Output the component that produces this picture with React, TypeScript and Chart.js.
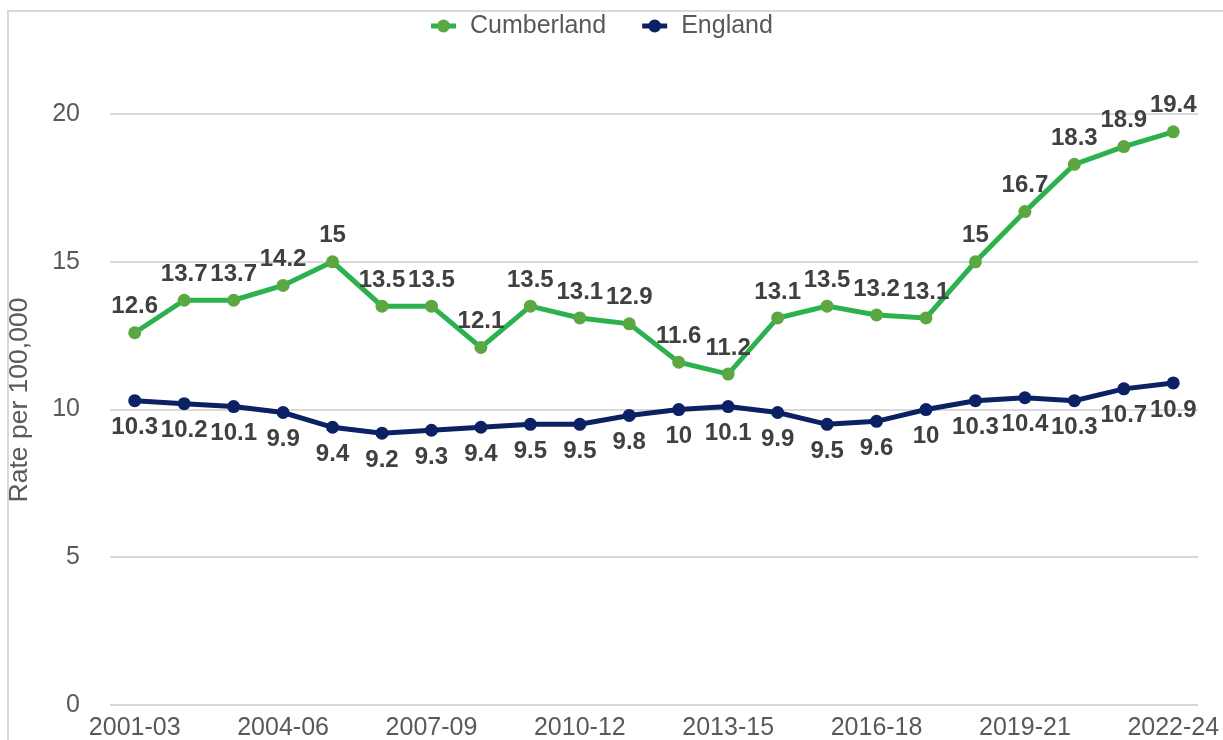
import React, { useEffect, useRef } from "react";
import { Chart, registerables } from "chart.js";

Chart.register(...registerables);

const categories = [
  "2001-03", "2002-04", "2003-05", "2004-06", "2005-07", "2006-08", "2007-09", "2008-10",
  "2009-11", "2010-12", "2011-13", "2012-14", "2013-15", "2014-16", "2015-17", "2016-18",
  "2017-19", "2018-20", "2019-21", "2020-22", "2021-23", "2022-24",
];
const cumberland = [12.6, 13.7, 13.7, 14.2, 15, 13.5, 13.5, 12.1, 13.5, 13.1, 12.9, 11.6, 11.2, 13.1, 13.5, 13.2, 13.1, 15, 16.7, 18.3, 18.9, 19.4];
const england = [10.3, 10.2, 10.1, 9.9, 9.4, 9.2, 9.3, 9.4, 9.5, 9.5, 9.8, 10, 10.1, 9.9, 9.5, 9.6, 10, 10.3, 10.4, 10.3, 10.7, 10.9];
const yTicks = [0, 5, 10, 15, 20];
const seriesNames = ["Cumberland", "England"];
const yTitle = "Rate per 100,000";

const FONT = "'Liberation Sans', Arial, sans-serif";
const GREEN_LINE = "#2bb24f";
const GREEN_POINT = "#5ba843";
const NAVY = "#0b2163";
const GREY_TEXT = "#595959";
const LABEL_TEXT = "#404040";

const decorPlugin = {
  id: "decor",
  beforeDraw(chart: any) {
    const ctx = chart.ctx;
    ctx.save();
    ctx.strokeStyle = "#d9d9d9";
    ctx.lineWidth = 2;
    ctx.beginPath();
    ctx.moveTo(8, chart.height);
    ctx.lineTo(8, 11);
    ctx.lineTo(chart.width, 11);
    ctx.stroke();
    ctx.restore();
  },
  afterDraw(chart: any) {
    const ctx = chart.ctx;
    ctx.save();
    // y axis title
    ctx.fillStyle = GREY_TEXT;
    ctx.font = `26.5px ${FONT}`;
    ctx.textAlign = "center";
    ctx.textBaseline = "middle";
    ctx.translate(20, 400);
    ctx.rotate(-Math.PI / 2);
    ctx.fillText(yTitle, 0, 0);
    ctx.restore();

    // legend
    ctx.save();
    ctx.font = `25px ${FONT}`;
    ctx.textBaseline = "middle";
    ctx.textAlign = "left";
    const ly = 26;
    let x = 431;
    chart.data.datasets.forEach((ds: any) => {
      ctx.strokeStyle = ds.borderColor;
      ctx.lineWidth = 5;
      ctx.beginPath();
      ctx.moveTo(x, ly);
      ctx.lineTo(x + 25, ly);
      ctx.stroke();
      ctx.fillStyle = ds.pointBackgroundColor;
      ctx.beginPath();
      ctx.arc(x + 12.5, ly, 6.5, 0, Math.PI * 2);
      ctx.fill();
      ctx.fillStyle = GREY_TEXT;
      ctx.fillText(ds.label, x + 39, ly);
      x += 39 + ctx.measureText(ds.label).width + 36;
    });
    ctx.restore();

    // data labels
    ctx.save();
    ctx.font = `bold 24px ${FONT}`;
    ctx.fillStyle = LABEL_TEXT;
    ctx.textAlign = "center";
    ctx.textBaseline = "middle";
    chart.data.datasets.forEach((ds: any, di: number) => {
      const meta = chart.getDatasetMeta(di);
      meta.data.forEach((pt: any, i: number) => {
        const off = di === 0 ? -26 : 27;
        ctx.fillText(String(ds.data[i]), pt.x, pt.y + off);
      });
    });
    ctx.restore();
  },
};

export default function App() {
  const ref = useRef<HTMLCanvasElement>(null);
  useEffect(() => {
    document.body.style.margin = "0";
    document.body.style.overflow = "hidden";
    const chart = new Chart(ref.current as HTMLCanvasElement, {
      type: "line",
      data: {
        labels: categories,
        datasets: [
          {
            label: seriesNames[0],
            data: cumberland,
            borderColor: GREEN_LINE,
            backgroundColor: GREEN_POINT,
            pointBackgroundColor: GREEN_POINT,
            pointBorderColor: GREEN_POINT,
            pointRadius: 6.5,
            pointBorderWidth: 0,
            borderWidth: 5,
            tension: 0,
          },
          {
            label: seriesNames[1],
            data: england,
            borderColor: NAVY,
            backgroundColor: NAVY,
            pointBackgroundColor: NAVY,
            pointBorderColor: NAVY,
            pointRadius: 6.5,
            pointBorderWidth: 0,
            borderWidth: 5,
            tension: 0,
          },
        ],
      },
      options: {
        animation: false,
        responsive: false,
        maintainAspectRatio: false,
        layout: { padding: { top: 55, right: 25, left: 0, bottom: 0 } },
        plugins: {
          legend: { display: false },
          tooltip: { enabled: false },
        },
        scales: {
          x: {
            type: "category",
            offset: true,
            grid: { display: false, drawTicks: false },
            border: { display: false },
            ticks: {
              autoSkip: false,
              maxRotation: 0,
              minRotation: 0,
              padding: 8,
              color: GREY_TEXT,
              font: { family: FONT, size: 25 },
              callback: (_v: any, i: number) => (i % 3 === 0 ? categories[i] : ""),
            },
            afterFit: (s: any) => {
              s.height = 35;
              s.paddingLeft = 0;
              s.paddingRight = 0;
            },
          },
          y: {
            min: 0,
            max: 22,
            grid: { color: "#d9d9d9", lineWidth: 2, drawTicks: false },
            border: { display: false },
            ticks: {
              padding: 30,
              color: GREY_TEXT,
              font: { family: FONT, size: 25 },
            },
            afterBuildTicks: (s: any) => {
              s.ticks = yTicks.map((v) => ({ value: v }));
            },
            afterFit: (s: any) => {
              s.width = 110;
              s.paddingTop = 0;
              s.paddingBottom = 0;
            },
          },
        },
      },
      plugins: [decorPlugin],
    });
    return () => chart.destroy();
  }, []);
  return (
    <div style={{ position: "fixed", left: 0, top: 0, width: 1223, height: 740, background: "#fff", overflow: "hidden" }}>
      <canvas ref={ref} width={1223} height={740} style={{ display: "block", width: 1223, height: 740 }} />
    </div>
  );
}
